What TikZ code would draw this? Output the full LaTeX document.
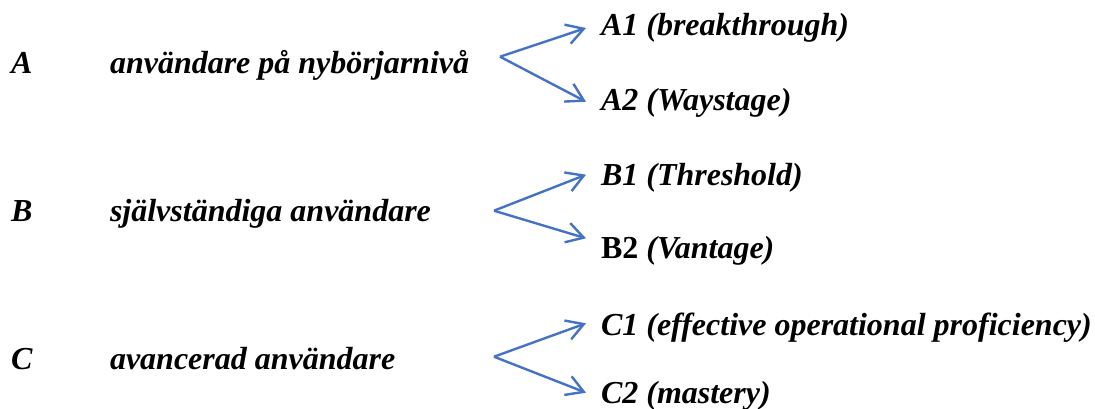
\documentclass[tikz,border=0pt]{standalone}
\usepackage{fontspec}
\setmainfont{Liberation Serif}
\usetikzlibrary{arrows.meta}
\definecolor{linkblue}{RGB}{68,114,196}
\tikzset{
  lbl/.style={anchor=base west, inner sep=0pt, outer sep=0pt,
    font=\fontsize{32}{38}\selectfont\bfseries\itshape},
  branch/.style={draw=linkblue, line width=2.4pt,
    -{Straight Barb[length=17pt, width=20pt, line width=2.4pt]}}
}
\begin{document}
\begin{tikzpicture}[x=1pt, y=1pt]
  \useasboundingbox (0,0) rectangle (1095,-408);
  % level letters and group names
  \node[lbl] (A)  at (11,-73)  {A};
  \node[lbl] (An) at (110,-73) {användare på nybörjarnivå};
  \node[lbl] (B)  at (11,-221) {B};
  \node[lbl] (Bn) at (110,-221) {självständiga användare};
  \node[lbl] (C)  at (11,-369) {C};
  \node[lbl] (Cn) at (110,-369) {avancerad användare};
  % sublevels
  \node[lbl] (A1) at (601,-35)  {A1 (breakthrough)};
  \node[lbl] (A2) at (601,-110) {A2 (Waystage)};
  \node[lbl] (B1) at (601,-185) {B1 (Threshold)};
  \node[lbl] (B2) at (601,-258) {{\upshape B2} (Vantage)};
  \node[lbl] (C1) at (601,-335) {C1 (effective operational proficiency)};
  \node[lbl] (C2) at (601,-403) {C2 (mastery)};
  % branching points and arrow tips
  \coordinate (vA)  at (500,-56.7);
  \coordinate (tA1) at (586,-28);
  \coordinate (tA2) at (586,-101.7);
  \coordinate (vB)  at (494,-210.7);
  \coordinate (tB1) at (586,-174.7);
  \coordinate (tB2) at (586,-238.3);
  \coordinate (vC)  at (494,-356.7);
  \coordinate (tC1) at (586,-323.3);
  \coordinate (tC2) at (586,-392.7);
  \draw[branch] (vA) -- (tA1);
  \draw[branch] (vA) -- (tA2);
  \draw[branch] (vB) -- (tB1);
  \draw[branch] (vB) -- (tB2);
  \draw[branch] (vC) -- (tC1);
  \draw[branch] (vC) -- (tC2);
\end{tikzpicture}
\end{document}
